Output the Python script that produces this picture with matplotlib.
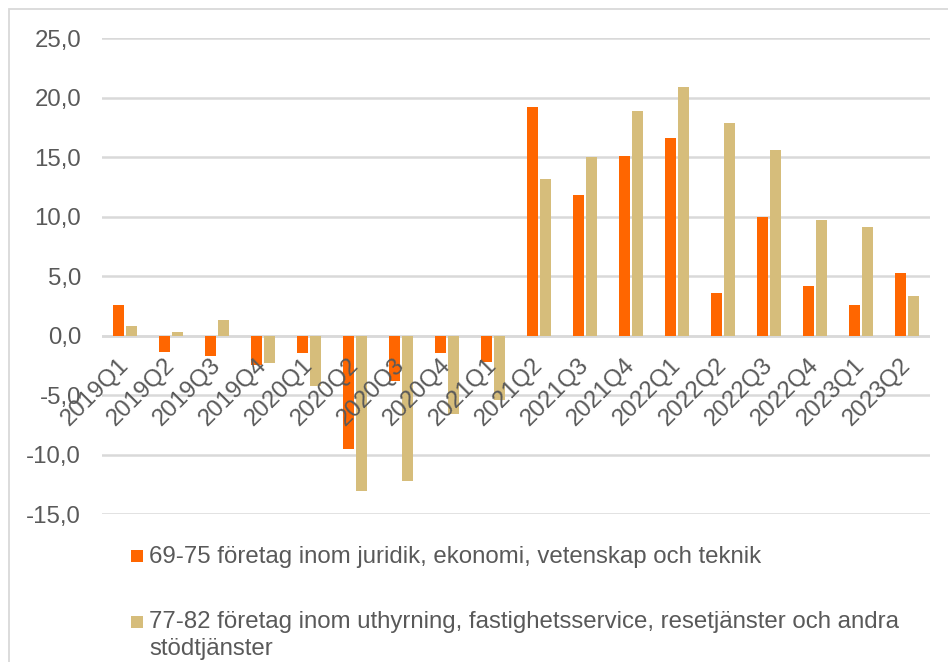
import matplotlib
matplotlib.use("Agg")
import matplotlib.pyplot as plt
from matplotlib.patches import Rectangle
from matplotlib.transforms import ScaledTranslation
import numpy as np

plt.rcParams['font.family'] = ['Liberation Sans', 'DejaVu Sans']

categories = ["2019Q1", "2019Q2", "2019Q3", "2019Q4", "2020Q1", "2020Q2", "2020Q3", "2020Q4",
              "2021Q1", "2021Q2", "2021Q3", "2021Q4", "2022Q1", "2022Q2", "2022Q3", "2022Q4",
              "2023Q1", "2023Q2"]
series_a = [2.6, -1.4, -1.7, -2.5, -1.5, -9.5, -3.8, -1.5, -2.2, 19.2, 11.8, 15.1, 16.6, 3.6, 10.0, 4.2, 2.6, 5.3]
series_b = [0.8, 0.3, 1.3, -2.3, -4.2, -13.1, -12.2, -6.6, -5.4, 13.2, 15.0, 18.9, 20.9, 17.9, 15.6, 9.7, 9.1, 3.3]
label_a = "69-75 företag inom juridik, ekonomi, vetenskap och teknik"
label_b = "77-82 företag inom uthyrning, fastighetsservice, resetjänster och andra\nstödtjänster"
yticks = [-15, -10, -5, 0, 5, 10, 15, 20, 25]

col_a = "#FF6600"
col_b = "#D6BD7B"
grid_col = "#D9D9D9"
txt_col = "#595959"
FS = 17.25

W, H = 948, 662
fig = plt.figure(figsize=(W / 100, H / 100), dpi=100)
fig.patch.set_facecolor("white")

# outer chart border (cut at right/bottom)
fig.patches.append(Rectangle((9 / W, -0.1), 1.2, (H - 9) / H + 0.1, transform=fig.transFigure,
                             fill=False, edgecolor=grid_col, linewidth=1.3))

ax = fig.add_axes([102 / W, 1 - 514 / H, (930 - 102) / W, (514 - 38.3) / H])
x = np.arange(len(categories))
bw = 0.235
off = 0.143
ax.bar(x - off, series_a, width=bw, color=col_a, zorder=3, label=label_a)
ax.bar(x + off, series_b, width=bw, color=col_b, zorder=3, label=label_b)

ax.set_xlim(-0.5, len(categories) - 0.5)
ax.set_ylim(-15, 25)
ax.set_yticks(yticks)
ax.set_yticklabels([f"{v:.1f}".replace(".", ",") for v in yticks])
ax.tick_params(axis='y', length=0, pad=15, labelsize=FS, labelcolor=txt_col)
ax.yaxis.grid(True, color=grid_col, linewidth=1.8, zorder=0)
for s in ax.spines.values():
    s.set_visible(False)
ax.axhline(0, color=grid_col, linewidth=1.8, zorder=2)
ax.set_xticks([])

# rotated category labels anchored below the zero line, drawn over the bars
trans = ax.transData + ScaledTranslation(0 / 100, -26 / 100, fig.dpi_scale_trans)
for i, c in enumerate(categories):
    ax.text(i, 0, c, transform=trans, rotation=45, rotation_mode='anchor',
            ha='right', va='center', fontsize=FS, color=txt_col, zorder=5, clip_on=False)

# legend
handles = [(col_a, label_a, 555.5), (col_b, label_b, 621)]
for col, lab, yc in handles:
    fig.patches.append(Rectangle((131 / W, 1 - (yc + 6.5) / H), 12 / W, 12 / H,
                                 transform=fig.transFigure, facecolor=col, edgecolor='none'))
    fig.text(149 / W, 1 - (yc - 10) / H, lab, fontsize=FS, color=txt_col, ha='left', va='top',
             linespacing=1.28)

fig.savefig("out.png", dpi=100)
